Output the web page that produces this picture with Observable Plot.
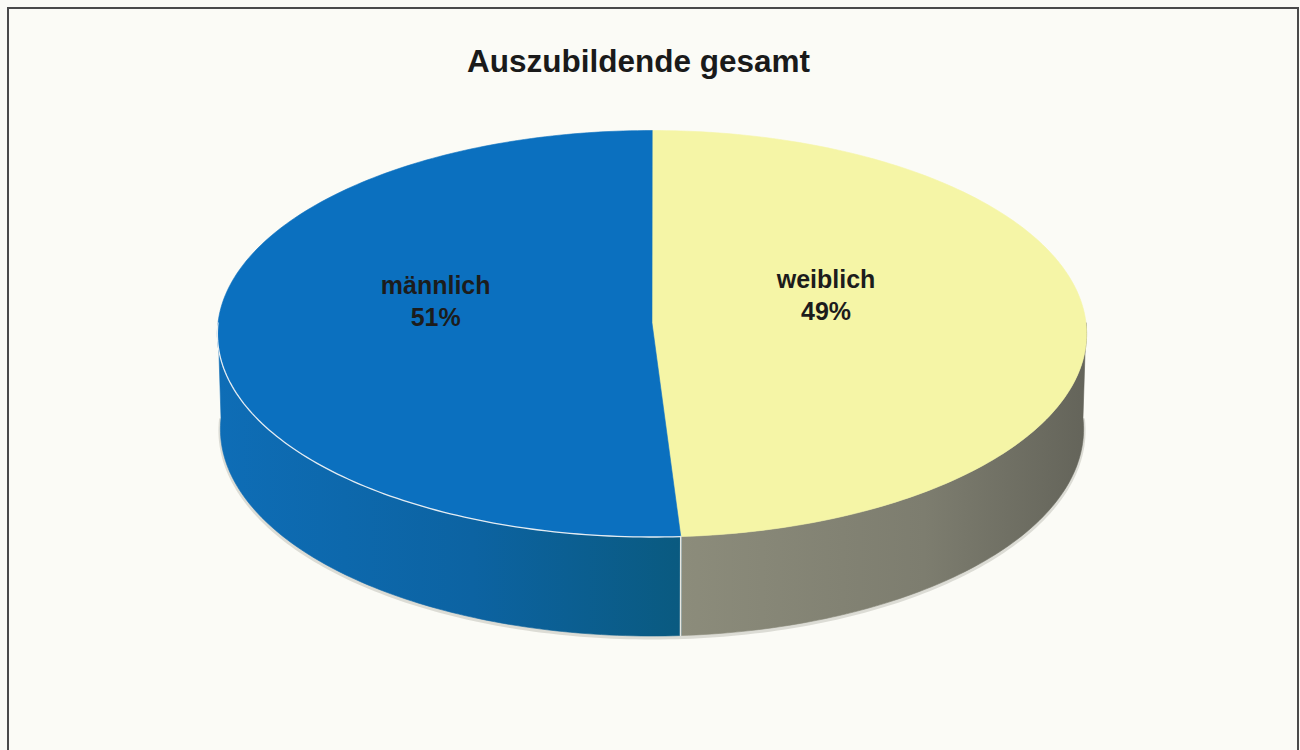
<!DOCTYPE html>
<html><head><meta charset="utf-8">
<script src="https://cdn.jsdelivr.net/npm/d3@7"></script>
<script src="https://cdn.jsdelivr.net/npm/@observablehq/plot@0.6"></script>
<style>
html,body{margin:0;padding:0;background:#fbfbf6;width:1300px;height:750px;overflow:hidden;font-family:"Liberation Sans",Arial,sans-serif}
#frame{position:absolute;left:7px;top:7px;width:1292px;height:800px;border:2px solid #4a4a4a;box-sizing:border-box}
#title{position:absolute;left:0;top:46px;width:1277px;text-align:center;font-size:31.5px;line-height:1;font-weight:bold;color:#1a1a1a}
#chart{position:absolute;left:0;top:100px}
</style></head><body>
<div id="frame"></div>
<div id="title"></div>
<div id="chart"></div>
<script>
// ---- data ----
const chartTitle = "Auszubildende gesamt";
const categories = ["weiblich", "männlich"];
const shares = [49, 51];

// ---- styles ----
const topFill = {"weiblich": "#f5f5a6", "männlich": "#0b70bf"};
const wallStops = {
  "weiblich": [["0", "#8c8c7b"], ["0.6", "#7d7d6f"], ["1", "#64645a"]],
  "männlich": [["0", "#0e6db6"], ["0.55", "#0c63a2"], ["1", "#0a5a80"]]
};

document.getElementById("title").textContent = chartTitle;

// ---- 3D perspective projection of the pie disk ----
const D = 16.7, SIN = 0.467, COS = Math.sqrt(1 - SIN * SIN), H = 0.25;
function project(theta, z, r = 1) {
  const t = theta * Math.PI / 180;
  const X = r * Math.sin(t), Y = r * Math.cos(t);
  const dist = D + Y * COS - z * SIN;
  return {x: X * D / dist, y: (Y * SIN + z * COS) * D / dist};
}
function arc(a, b, z) {
  const n = Math.max(2, Math.ceil(Math.abs(b - a)));
  const pts = [];
  for (let i = 0; i <= n; ++i) pts.push(project(a + (b - a) * i / n, z));
  return pts;
}

const total = d3.sum(shares);
let acc = 0;
const slices = categories.map((c, i) => {
  const a = acc / total * 360;
  acc += shares[i];
  const b = acc / total * 360;
  return {cat: c, share: shares[i], a, b, mid: (a + b) / 2};
});

const marks = [];
// soft shadow under the wall
marks.push(Plot.line(arc(90, 270, -H), {x: "x", y: "y", stroke: "#c2c2ba", strokeWidth: 4, strokeOpacity: 0.55, dy: 1.5}));
// walls
slices.forEach((s, i) => {
  const a = Math.max(s.a, 90), b = Math.min(s.b, 270);
  if (a < b) {
    const pts = [...arc(a, b, 0), ...arc(b, a, -H)];
    marks.push(Plot.line(pts, {x: "x", y: "y", fill: `url(#wall${i})`, stroke: `url(#wall${i})`, strokeWidth: 0.6, curve: "linear-closed"}));
  }
});
// tops
slices.forEach((s) => {
  const pts = [{x: 0, y: 0}, ...arc(s.a, s.b, 0)];
  marks.push(Plot.line(pts, {x: "x", y: "y", fill: topFill[s.cat], stroke: topFill[s.cat], strokeWidth: 0.6, curve: "linear-closed"}));
});
// highlight edge on the blue front rim and the split line between walls
const blue = slices[1];
marks.push(Plot.line(arc(blue.a, 270, 0), {x: "x", y: "y", stroke: "#e4ecf2", strokeWidth: 1.3}));
marks.push(Plot.line([project(blue.a, 0), project(blue.a, -H)], {x: "x", y: "y", stroke: "#e6e6e0", strokeWidth: 1.6}));
// labels
const labelData = slices.map(s => ({...project(s.mid, 0, 0.45), text: `${s.cat}\n${s.share}%`}));
marks.push(Plot.text(labelData, {x: "x", y: "y", text: "text", fontSize: 25, fontWeight: "bold", fontFamily: "Liberation Sans, Arial, sans-serif", lineHeight: 1.28, fill: "#1c1c1c", dx: -21, dy: -26}));

const R = 434, CX = 651.5, CY = 222.5;
const plot = Plot.plot({
  width: 1300,
  height: 650,
  margin: 0,
  x: {domain: [-1.5, 1.5], range: [CX - 1.5 * R, CX + 1.5 * R], axis: null},
  y: {domain: [-1, 1], range: [CY + R, CY - R], axis: null},
  style: {background: "transparent", overflow: "visible"},
  marks
});

// gradient definitions for the shaded walls
const ns = "http://www.w3.org/2000/svg";
const defs = document.createElementNS(ns, "defs");
slices.forEach((s, i) => {
  const g = document.createElementNS(ns, "linearGradient");
  g.setAttribute("id", `wall${i}`);
  g.setAttribute("x1", "0"); g.setAttribute("x2", "1");
  g.setAttribute("y1", "0"); g.setAttribute("y2", "0");
  wallStops[s.cat].forEach(([o, c]) => {
    const st = document.createElementNS(ns, "stop");
    st.setAttribute("offset", o);
    st.setAttribute("stop-color", c);
    g.appendChild(st);
  });
  defs.appendChild(g);
});
plot.insertBefore(defs, plot.firstChild);
document.getElementById("chart").appendChild(plot);
</script>
</body></html>
